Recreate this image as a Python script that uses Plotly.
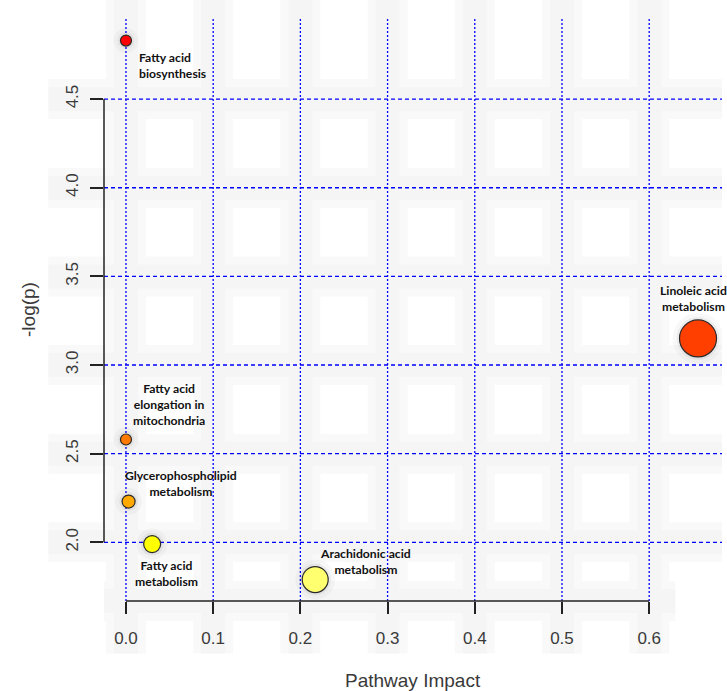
import plotly.graph_objects as go

# Pathway topology results: impact vs. -log(p)
pathways = [
    "Fatty acid<br>biosynthesis",
    "Linoleic acid<br>metabolism",
    "Fatty acid<br>elongation in<br>mitochondria",
    "Glycerophospholipid<br>metabolism",
    "Fatty acid<br>metabolism",
    "Arachidonic acid<br>metabolism",
]
impact = [0.0, 0.656, 0.0, 0.003, 0.030, 0.217]
neg_log_p = [4.83, 3.15, 2.58, 2.23, 1.99, 1.79]

x_ticks = [0.0, 0.1, 0.2, 0.3, 0.4, 0.5, 0.6]
x_tick_text = ["0.0", "0.1", "0.2", "0.3", "0.4", "0.5", "0.6"]
y_ticks = [2.0, 2.5, 3.0, 3.5, 4.0, 4.5]
y_tick_text = ["2.0", "2.5", "3.0", "3.5", "4.0", "4.5"]

# marker styling
marker_px = [11, 37, 11, 13, 17, 26]
marker_fill = ["#FF0000", "#FF3F00", "#FF7A00", "#FFA800", "#FFFF00", "#FFFF70"]
# label placement (pixel offsets from the point, anchor, alignment)
label_dx = [11, -5, 43, 52, 14, 50]
label_dy = [-25, 40, 35, 18, -29, 18]
label_xanchor = ["left", "center", "center", "center", "center", "center"]
label_align = ["left", "center", "center", "center", "center", "center"]

X_RANGE = [-0.0252, 0.6835]
Y_RANGE = [1.669, 4.963]
GRID_BLUE = "#0000FF"
HALO_OUTER = "#f9f9f9"
HALO_INNER = "#f5f5f5"

fig = go.Figure()

# soft shadow beneath each bubble
fig.add_trace(go.Scatter(
    x=impact, y=neg_log_p, mode="markers", hoverinfo="skip", showlegend=False,
    marker=dict(size=[s + 14 for s in marker_px], color="rgba(0,0,0,0.04)", line=dict(width=0)),
))
fig.add_trace(go.Scatter(
    x=impact, y=neg_log_p, mode="markers", hoverinfo="skip", showlegend=False,
    marker=dict(size=[s + 6 for s in marker_px], color="rgba(0,0,0,0.07)", line=dict(width=0)),
))
# the pathway bubbles
fig.add_trace(go.Scatter(
    x=impact, y=neg_log_p, mode="markers", showlegend=False,
    text=[p.replace("<br>", " ") for p in pathways],
    hovertemplate="%{text}<br>Impact %{x}<br>-log(p) %{y}<extra></extra>",
    marker=dict(size=marker_px, color=marker_fill, opacity=1,
                line=dict(color="#2a2a2a", width=1.2)),
))

shapes = []
# light haze around grid lines and axes
for width, col in [(40, HALO_OUTER), (24, HALO_INNER)]:
    for xv in x_ticks:
        shapes.append(dict(type="line", xref="x", yref="paper", x0=xv, x1=xv,
                           y0=1.03, y1=-0.09, layer="below",
                           line=dict(color=col, width=width)))
    for yv in y_ticks:
        shapes.append(dict(type="line", xref="paper", yref="y", x0=-0.09, x1=1.0,
                           y0=yv, y1=yv, layer="below",
                           line=dict(color=col, width=width)))
    shapes.append(dict(type="line", xref="x", yref="paper", x0=-0.03, x1=0.63,
                       y0=0, y1=0, layer="below", line=dict(color=col, width=width)))

# blue reference grid: dotted verticals, dashed horizontals
for xv in x_ticks:
    shapes.append(dict(type="line", xref="x", yref="paper", x0=xv, x1=xv,
                       y0=0, y1=1, layer="between",
                       line=dict(color=GRID_BLUE, width=1.3, dash="2px,2px")))
for yv in y_ticks:
    shapes.append(dict(type="line", xref="paper", yref="y", x0=0, x1=1,
                       y0=yv, y1=yv, layer="between",
                       line=dict(color=GRID_BLUE, width=1.3, dash="4px,3px")))

# axis lines spanning only the tick range
shapes.append(dict(type="line", xref="x", yref="paper", x0=x_ticks[0], x1=x_ticks[-1],
                   y0=0, y1=0, layer="above", line=dict(color="#222222", width=1.5)))
shapes.append(dict(type="line", xref="paper", yref="y", x0=0, x1=0,
                   y0=y_ticks[0], y1=y_ticks[-1], layer="above",
                   line=dict(color="#222222", width=1.5)))

annotations = []
for name, xv, yv, dx, dy, xa, al in zip(pathways, impact, neg_log_p, label_dx, label_dy,
                                        label_xanchor, label_align):
    annotations.append(dict(
        x=xv, y=yv, xref="x", yref="y", text="<b>" + name + "</b>", showarrow=False,
        xshift=dx, yshift=dy, xanchor=xa, yanchor="middle", align=al,
        font=dict(family="Lato, Carlito, sans-serif", size=12.2, color="#111111"),
    ))

# axis titles
annotations.append(dict(x=0.5, y=-0.136, xref="paper", yref="paper", text="Pathway Impact",
                        showarrow=False, xanchor="center", yanchor="middle",
                        font=dict(family="Liberation Sans, Arial, sans-serif", size=19,
                                  color="#3a3a3a")))
annotations.append(dict(x=-0.123, y=0.5, xref="paper", yref="paper", text="-log(p)",
                        showarrow=False, xanchor="center", yanchor="middle", textangle=-90,
                        font=dict(family="Liberation Sans, Arial, sans-serif", size=19,
                                  color="#3a3a3a")))

tick_font = dict(family="Liberation Sans, Arial, sans-serif", size=17, color="#3a3a3a")

fig.update_layout(
    width=727, height=691,
    margin=dict(l=104, r=5, t=17, b=90),
    paper_bgcolor="white", plot_bgcolor="rgba(0,0,0,0)",
    shapes=shapes, annotations=annotations,
    xaxis=dict(range=X_RANGE, tickvals=x_ticks, ticktext=x_tick_text,
               showgrid=False, zeroline=False, showline=False, ticks="outside",
               ticklen=12, tickwidth=1.5, tickcolor="#222222", tickfont=tick_font,
               ticklabelstandoff=10),
    yaxis=dict(range=Y_RANGE, tickvals=y_ticks, ticktext=y_tick_text, tickangle=-90,
               showgrid=False, zeroline=False, showline=False, ticks="outside",
               ticklen=13, tickwidth=1.5, tickcolor="#222222", tickfont=tick_font,
               ticklabelstandoff=5),
    hovermode="closest",
)

fig.write_html("out.html")
